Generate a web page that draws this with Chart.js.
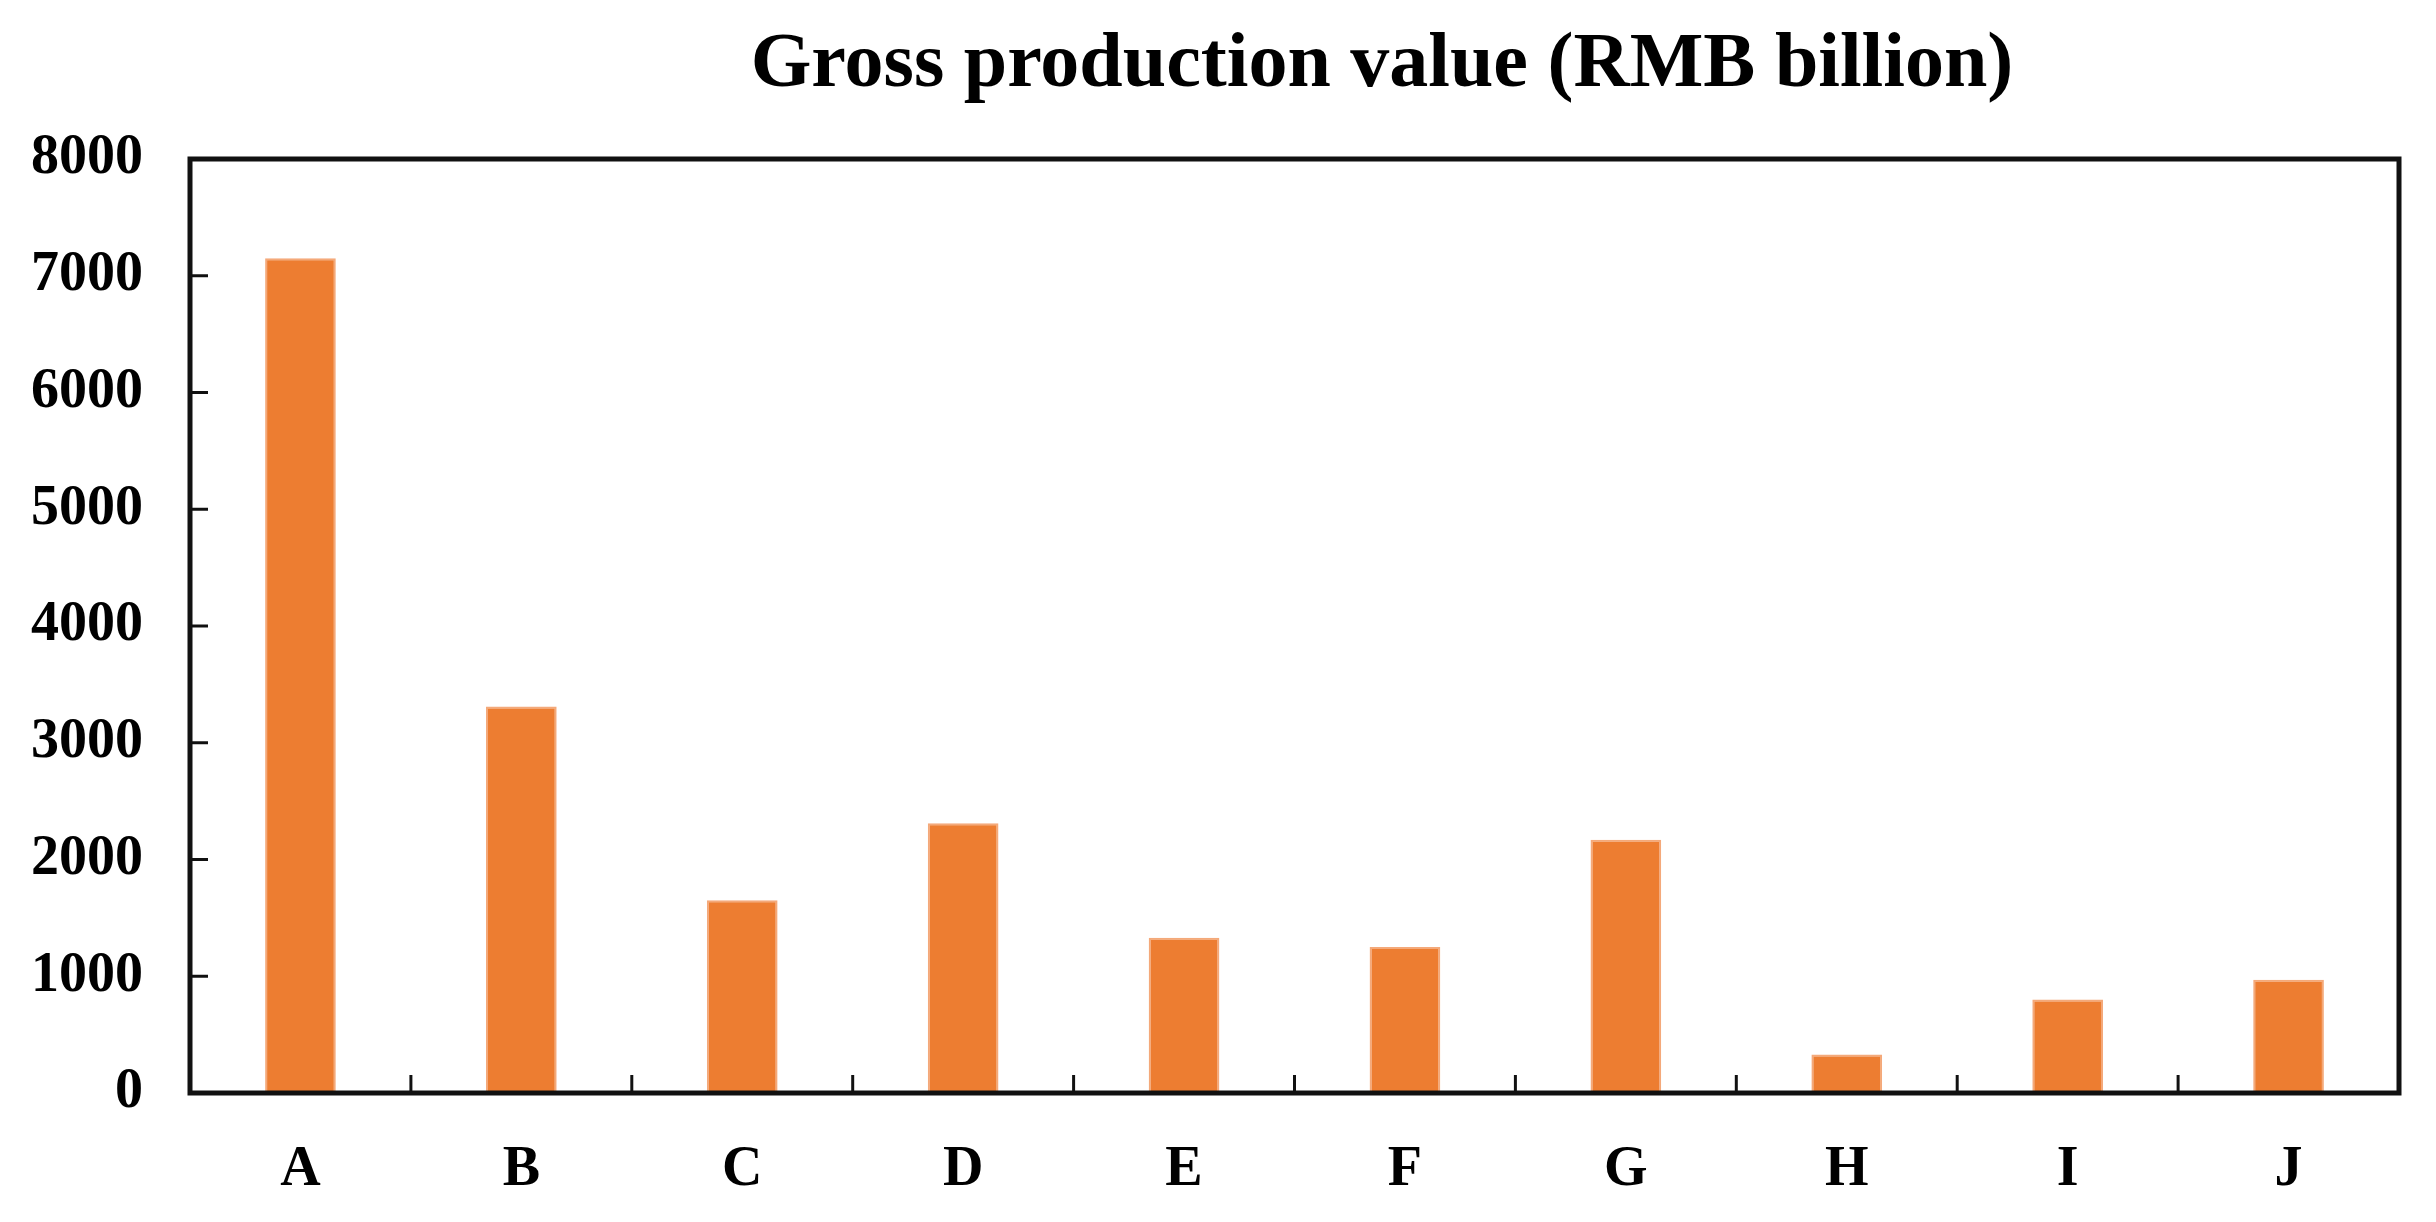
<!doctype html>
<html lang="en">
<head>
    <meta charset="UTF-8" />
    <title>Gross production value</title>
    <style>
        body {
            margin: 0;
            background: #fff;
        }
        .chart-container {
            position: relative;
            width: 2436px;
            height: 1222px;
        }
    </style>
</head>
<body>
    <div class="chart-container">
        <canvas id="gpvChart"></canvas>
    </div>

    <script src="https://cdn.jsdelivr.net/npm/chart.js"></script>
    <script>
        const categories = ['A', 'B', 'C', 'D', 'E', 'F', 'G', 'H', 'I', 'J'];
        const grossValues = [7150, 3310, 1650, 2310, 1330, 1250, 2170, 330, 800, 970];
        const yTicks = [0, 1000, 2000, 3000, 4000, 5000, 6000, 7000, 8000];
        const titleText = 'Gross production value (RMB billion)';

        const serif = "'Liberation Serif', 'Times New Roman', serif";

        // frame, inward tick marks and title
        const framePlugin = {
            id: 'frame',
            afterDraw(chart) {
                const { ctx, chartArea: a, scales } = chart;
                ctx.save();
                ctx.strokeStyle = '#111';
                ctx.lineWidth = 3;
                yTicks.forEach(v => {
                    const y = scales.y.getPixelForValue(v);
                    if (v === 0 || v === 8000) return;
                    ctx.beginPath();
                    ctx.moveTo(a.left, y);
                    ctx.lineTo(a.left + 18, y);
                    ctx.stroke();
                });
                for (let i = 1; i < categories.length; i++) {
                    const x = (scales.x.getPixelForValue(i - 1) + scales.x.getPixelForValue(i)) / 2;
                    ctx.beginPath();
                    ctx.moveTo(x, a.bottom);
                    ctx.lineTo(x, a.bottom - 18);
                    ctx.stroke();
                }
                ctx.lineWidth = 5;
                ctx.strokeRect(a.left, a.top, a.right - a.left, a.bottom - a.top);

                ctx.fillStyle = '#000';
                ctx.font = 'bold 78px ' + serif;
                ctx.textAlign = 'center';
                ctx.textBaseline = 'alphabetic';
                ctx.fillText(titleText, 1382, 86);
                ctx.restore();
            }
        };

        const ctx = document.getElementById('gpvChart').getContext('2d');
        new Chart(ctx, {
            type: 'bar',
            data: {
                labels: categories,
                datasets: [{
                    label: 'Gross production value',
                    data: grossValues,
                    backgroundColor: '#ED7D31',
                    borderColor: '#F4A97A',
                    borderWidth: 2,
                    categoryPercentage: 1,
                    barPercentage: 0.32
                }]
            },
            options: {
                responsive: true,
                maintainAspectRatio: false,
                animation: false,
                layout: { padding: { top: 159, right: 37, left: 0, bottom: 0 } },
                plugins: {
                    legend: { display: false },
                    title: { display: false },
                    tooltip: { enabled: false }
                },
                scales: {
                    x: {
                        grid: { display: false, drawTicks: false },
                        border: { display: false },
                        ticks: {
                            color: '#000',
                            padding: 44,
                            font: { family: serif, size: 56, weight: 'bold' }
                        },
                        afterFit(scale) { scale.height = 129; }
                    },
                    y: {
                        min: 0,
                        max: 8000,
                        afterBuildTicks(scale) {
                            scale.ticks = yTicks.map(v => ({ value: v }));
                        },
                        grid: { display: false, drawTicks: false },
                        border: { display: false },
                        ticks: {
                            color: '#000',
                            padding: 47,
                            font: { family: serif, size: 56, weight: 'bold' },
                            callback: v => String(v)
                        },
                        afterFit(scale) { scale.width = 190; }
                    }
                }
            },
            plugins: [framePlugin]
        });
    </script>
</body>
</html>
